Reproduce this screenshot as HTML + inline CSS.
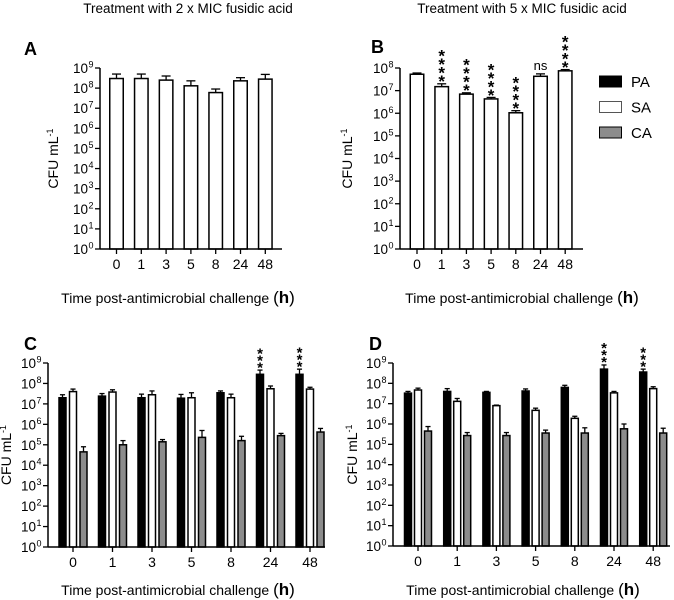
<!DOCTYPE html>
<html><head><meta charset="utf-8">
<style>
html,body{margin:0;padding:0;background:#fff;}
svg{display:block;font-family:"Liberation Sans",Arial,sans-serif;}
</style></head>
<body>
<svg id="fig" width="674" height="600" viewBox="0 0 674 600" xmlns="http://www.w3.org/2000/svg"></svg>
<script>
// ---- data ----
const timeLabels = ["0","1","3","5","8","24","48"];
const seriesNames = ["PA","SA","CA"];
// Panel A (SA only, 2x MIC)
const aSA = [3e8,3e8,2.5e8,1.3e8,6e7,2.3e8,2.8e8];
const aSAerr = [5e8,5e8,4e8,2.3e8,9e7,3.3e8,4.8e8];
// Panel B (SA only, 5x MIC)
const bSA = [5.3e7,1.5e7,7e6,4.3e6,1.05e6,4.3e7,7.5e7];
const bSAerr = [6e7,2e7,8e6,5e6,1.3e6,5.5e7,8.5e7];
const bSig = ["","****","****","****","****","ns","****"];
// Panel C
const cPA = [2e7,2.4e7,2e7,1.9e7,3.5e7,2.8e8,2.8e8];
const cPAerr = [2.8e7,3.2e7,3e7,2.9e7,4.3e7,4.5e8,5e8];
const cSA = [4e7,3.8e7,2.8e7,2e7,2e7,5.5e7,5.3e7];
const cSAerr = [5.3e7,4.9e7,4.3e7,3.5e7,3e7,7.5e7,6.5e7];
const cCA = [4.5e4,1e5,1.4e5,2.3e5,1.6e5,2.8e5,4.2e5];
const cCAerr = [8e4,1.6e5,1.8e5,5e5,2.6e5,3.6e5,6.3e5];
const cSig = ["","","","","","***","***"];
// Panel D
const dPA = [3.3e7,4e7,3.6e7,4.2e7,6.3e7,5e8,3.6e8];
const dPAerr = [4e7,5.5e7,4e7,5.3e7,8e7,8e8,5e8];
const dSA = [4.7e7,1.3e7,8e6,4.7e6,1.9e6,3.4e7,5.5e7];
const dSAerr = [5.8e7,1.8e7,8.5e6,6e6,2.4e6,4e7,6.8e7];
const dCA = [4.5e5,2.7e5,2.7e5,3.6e5,3.6e5,5.8e5,3.6e5];
const dCAerr = [7.5e5,3.8e5,3.8e5,5e5,6.5e5,1e6,6.2e5];
const dSig = ["","","","","","***","***"];

const NS="http://www.w3.org/2000/svg";
const svg=document.getElementById('fig');
function mk(tag,attrs,parent){const e=document.createElementNS(NS,tag);for(const k in attrs)e.setAttribute(k,attrs[k]);(parent||svg).appendChild(e);return e;}
const fills={PA:"#000",SA:"#fff",CA:"#8c8c8c"};

function panel(cfg){
  const g=mk('g',{});
  
  
  const y=v=>cfg.y0-(Math.log10(v)/cfg.maxExp)*(cfg.y0-cfg.yTop);
  if(cfg.title){const t=mk('text',{x:cfg.titleX,y:13,'text-anchor':'middle','font-size':13.5},g);t.textContent=cfg.title;
    }
  const L=mk('text',{x:cfg.letterX,y:cfg.letterY,'font-size':18,'font-weight':'bold'},g);L.textContent=cfg.letter;
  
  cfg.series.forEach((s,si)=>{
    timeLabels.forEach((lab,i)=>{
      const cx=cfg.xs(i)+cfg.offsets[si];
      const v=s.vals[i], e=s.err[i];
      const top=y(v), et=y(e);
      const er=mk('line',{x1:cx,x2:cx,y1:top,y2:et,stroke:'#000','stroke-width':1.3},g);
      
      const cap=mk('line',{x1:cx-cfg.bw*0.3,x2:cx+cfg.bw*0.3,y1:et,y2:et,stroke:'#000','stroke-width':1.3},g);
      
      const r=mk('rect',{x:cx-cfg.bw/2+0.75,y:top,width:cfg.bw-1.5,height:cfg.y0-top,fill:fills[s.name],stroke:'#000','stroke-width':1.5},g);
      
      
    });
  });
  if(cfg.sig){cfg.sig.forEach((sg,i)=>{
    if(!sg)return;
    const s=cfg.series[cfg.sigSeries];
    const cx=cfg.xs(i)+cfg.offsets[cfg.sigSeries];
    const base=y(s.err[i])-2;
    const tg=mk('g',{},g);
    
    
    if(sg==='ns'){const t=mk('text',{x:cx,y:base-2,'text-anchor':'middle','font-size':13},tg);t.textContent='ns';}
    else{for(let k=0;k<sg.length;k++){
      const c=base-4-k*cfg.starStep;
      const t=mk('text',{x:cx,y:c+0.55*cfg.starSize,'text-anchor':'middle','font-size':cfg.starSize,'font-weight':'bold'},tg);t.textContent='*';}}
  });}
  const ya=mk('line',{x1:cfg.ax,x2:cfg.ax,y1:cfg.yTop,y2:cfg.y0,stroke:'#000','stroke-width':1.5},g);
  
  const xa=mk('line',{x1:cfg.ax,x2:cfg.axEnd,y1:cfg.y0,y2:cfg.y0,stroke:'#000','stroke-width':1.5},g);
  
  for(let e=0;e<=cfg.maxExp;e++){
    const yy=y(Math.pow(10,e));
    mk('line',{x1:cfg.ax-5,x2:cfg.ax,y1:yy,y2:yy,stroke:'#000','stroke-width':1.3},g);
    const t=mk('text',{x:cfg.ax-12,y:yy+5,'text-anchor':'end','font-size':13.5},g);t.textContent='10';
    
    const sp=mk('text',{x:cfg.ax-11.5,y:yy-0.5,'text-anchor':'start','font-size':9},g);sp.textContent=String(e);
  }
  timeLabels.forEach((lab,i)=>{
    const xx=cfg.xs(i);
    mk('line',{x1:xx,x2:xx,y1:cfg.y0,y2:cfg.y0+5,stroke:'#000','stroke-width':1.3},g);
    const t=mk('text',{x:xx,y:cfg.y0+20,'text-anchor':'middle','font-size':14},g);t.textContent=lab;
    
  });
  const yt=mk('text',{transform:`translate(${cfg.ylx},${(cfg.yTop+cfg.y0)/2}) rotate(-90)`,'text-anchor':'middle','font-size':14},g);
  yt.innerHTML='CFU mL<tspan font-size="9" dy="-5">-1</tspan>';
  
  const xt=mk('text',{x:cfg.xtx,y:cfg.xty,'text-anchor':'middle','font-size':14},g);
  xt.innerHTML='Time post-antimicrobial challenge <tspan font-size="17">(</tspan><tspan font-size="17" font-weight="bold">h</tspan><tspan font-size="17">)</tspan>';
  
}

panel({name:'panel-a',letter:'A',letterX:24,letterY:55,title:'Treatment with 2 x MIC fusidic acid',titleX:188,
  ax:100,axEnd:282,y0:249,yTop:68,maxExp:9,xs:i=>116.5+i*24.8,offsets:[0],bw:15,
  series:[{name:'SA',vals:aSA,err:aSAerr}],ylx:58,xtx:178,xty:303});
panel({name:'panel-b',letter:'B',letterX:371,letterY:53,title:'Treatment with 5 x MIC fusidic acid',titleX:522,
  ax:400,axEnd:583,y0:249,yTop:68,maxExp:8,xs:i=>417+i*24.7,offsets:[0],bw:15,
  series:[{name:'SA',vals:bSA,err:bSAerr}],sig:bSig,sigSeries:0,starStep:8.5,starSize:17,ylx:352,xtx:522,xty:303});
panel({name:'panel-c',letter:'C',letterX:24,letterY:350,
  ax:48,axEnd:325,y0:547,yTop:363,maxExp:9,xs:i=>73+i*39.5,offsets:[-10.5,0,10.5],bw:8.5,
  series:[{name:'PA',vals:cPA,err:cPAerr},{name:'SA',vals:cSA,err:cSAerr},{name:'CA',vals:cCA,err:cCAerr}],
  sig:cSig,sigSeries:0,starStep:7,starSize:15,ylx:11,xtx:178,xty:595});
panel({name:'panel-d',letter:'D',letterX:369,letterY:350,
  ax:393,axEnd:670,y0:546,yTop:363,maxExp:9,xs:i=>418+i*39.2,offsets:[-10,0,10],bw:8.5,
  series:[{name:'PA',vals:dPA,err:dPAerr},{name:'SA',vals:dSA,err:dSAerr},{name:'CA',vals:dCA,err:dCAerr}],
  sig:dSig,sigSeries:0,starStep:7,starSize:15,ylx:357,xtx:523,xty:595});

const lg=mk('g',{});


seriesNames.forEach((s,i)=>{
  const yy=76+i*25.5;
  const r=mk('rect',{x:599.5,y:yy,width:22,height:11,fill:fills[s],stroke:s==='SA'?'#555':'#000','stroke-width':1},lg);
  
  
  const t=mk('text',{x:631,y:yy+11,'font-size':15},lg);t.textContent=s;
  
  
});
</script>
</body></html>
